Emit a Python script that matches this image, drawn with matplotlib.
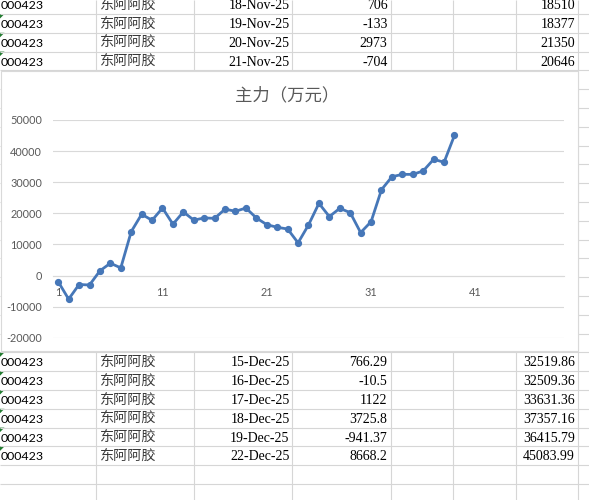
import matplotlib
matplotlib.use('Agg')
import matplotlib.pyplot as plt
from matplotlib.patches import Rectangle, Polygon

# main force, cumulative (10k yuan), one point per trading day
days = list(range(1, 40))
main_force = [-2000, -7600, -2900, -3050, 1500, 3950, 2450, 14100, 19700, 17750,
              21700, 16500, 20450, 17804, 18510, 18377, 21350, 20646, 21700, 18500,
              16350, 15500, 14950, 10500, 16250, 23200, 18950, 21600, 20200, 13800,
              17300, 27600, 31753.57, 32519.86, 32509.36, 33631.36, 37357.16, 36415.79, 45083.99]
n_categories = 49
x_ticks = [1, 11, 21, 31, 41]
y_ticks = [-20000, -10000, 0, 10000, 20000, 30000, 40000, 50000]
chart_title = '主力（万元）'

# sheet rows visible above and below the chart
code = '000423'
name = '东阿阿胶'
top_dates = ['18-Nov-25', '19-Nov-25', '20-Nov-25', '21-Nov-25']
top_change = ['706', '-133', '2973', '-704']
top_total = ['18510', '18377', '21350', '20646']
bottom_dates = ['15-Dec-25', '16-Dec-25', '17-Dec-25', '18-Dec-25', '19-Dec-25', '22-Dec-25']
bottom_change = ['766.29', '-10.5', '1122', '3725.8', '-941.37', '8668.2']
bottom_total = ['32519.86', '32509.36', '33631.36', '37357.16', '36415.79', '45083.99']

W, H = 589, 500
fig = plt.figure(figsize=(W / 100, H / 100), dpi=100)

# spreadsheet background, pixel coordinates
sheet = fig.add_axes([0, 0, 1, 1])
sheet.set_xlim(0, W)
sheet.set_ylim(H, 0)
sheet.axis('off')

grid_c = '#d6d6d6'
col_edges = [96, 194, 292, 391, 453, 516, 578]
row_top, row_h = 14, 18.8
sheet.hlines([row_top + row_h * k for k in range(-1, 27)], 0, W, color=grid_c, lw=0.8)
sheet.vlines(col_edges, 0, H, color=grid_c, lw=0.8)


def put_row(k, date, change, total):
    yc = row_top + row_h * (k - 0.5) + 1.0
    ytop = row_top + row_h * (k - 1)
    sheet.add_patch(Polygon([(0, ytop), (4.5, ytop), (0, ytop + 4.5)], closed=True,
                            color='#1f7a2e', lw=0))
    sheet.text(0.5, yc, code, fontsize=8.9, family='Lato', va='center', ha='left')
    sheet.text(100, yc, name, fontsize=10.2, family='Noto Sans CJK SC', color='#3a3a3a',
               va='center', ha='left')
    sheet.text(289.5, yc, date, fontsize=10, family='Liberation Serif', va='center', ha='right')
    sheet.text(387.5, yc, change, fontsize=10, family='Liberation Serif', va='center', ha='right')
    sheet.text(575, yc, total, fontsize=10, family='Liberation Serif', va='center', ha='right')


for i in range(len(top_dates)):
    put_row(i, top_dates[i], top_change[i], top_total[i])
for i in range(len(bottom_dates)):
    put_row(19 + i, bottom_dates[i], bottom_change[i], bottom_total[i])

# chart area
sheet.add_patch(Rectangle((0.5, 70.8), 577.5, 280, facecolor='white',
                          edgecolor='#d9d9d9', lw=0.8, zorder=3))
fig.text(287 / W, 1 - 95 / H, chart_title, fontsize=12.5, family='Noto Sans CJK SC',
         color='#595959', ha='center', va='center')

ax = fig.add_axes([53 / W, 1 - 337.7 / H, 511 / W, 217.7 / H])
ax.patch.set_visible(False)
ax.plot(days, main_force, color='#4677b8', lw=2.0, marker='o', ms=4.2,
        solid_joinstyle='round', solid_capstyle='round', zorder=3)
ax.set_xlim(0.5, n_categories + 0.5)
ax.set_ylim(min(y_ticks), max(y_ticks))
ax.set_yticks(y_ticks)
ax.set_yticklabels([str(v) for v in y_ticks])
ax.set_xticks(x_ticks)
ax.set_xticklabels([str(v) for v in x_ticks])
ax.grid(axis='y', color='#d9d9d9', lw=0.8)
ax.set_axisbelow(True)
for s in ['top', 'right', 'left']:
    ax.spines[s].set_visible(False)
ax.spines['bottom'].set_position(('data', 0))
ax.spines['bottom'].set_color('#d9d9d9')
ax.spines['bottom'].set_linewidth(0.8)
ax.tick_params(axis='y', length=0, pad=8, labelsize=7.8, labelcolor='#595959')
ax.tick_params(axis='x', length=0, pad=8, labelsize=7.8, labelcolor='#595959')
for lab in ax.get_xticklabels() + ax.get_yticklabels():
    lab.set_family('Lato')

fig.savefig('out.png', dpi=100)
